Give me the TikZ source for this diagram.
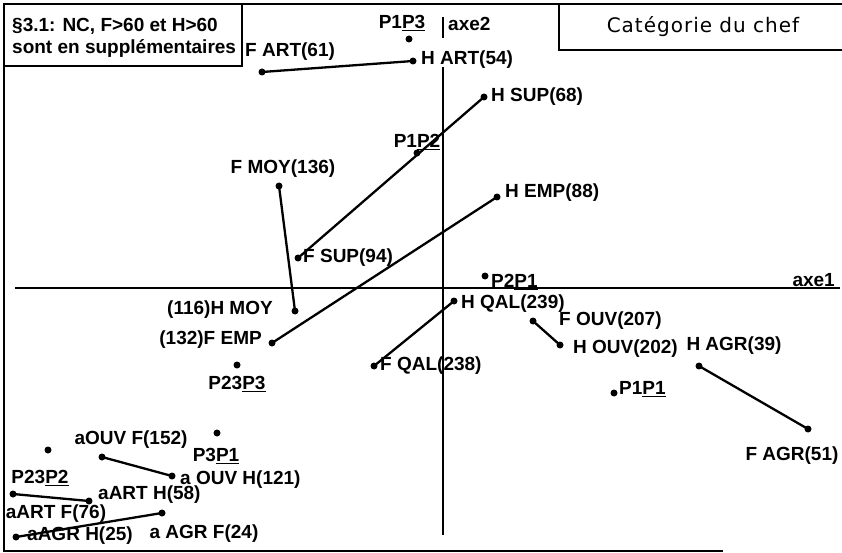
\documentclass[tikz,border=0pt]{standalone}
\usepackage{fontspec}
\newfontfamily\labfont{Liberation Sans}
\newfontfamily\titfont{DejaVu Sans}[LetterSpace=5]
\tikzset{
 pt/.style={circle,fill=black,inner sep=0pt,minimum size=7pt},
 lab/.style={inner sep=0pt,font=\labfont\bfseries\fontsize{19}{19}\selectfont},
 boxtxt/.style={inner sep=0pt,font=\labfont\bfseries\fontsize{19}{19}\selectfont},
 link/.style={line width=2.3pt},
 axisline/.style={line width=2.2pt},
 frameline/.style={line width=2.5pt}
}
\begin{document}
\begin{tikzpicture}[x=1pt,y=-1pt]
\useasboundingbox (0,0) rectangle (842,553);
% frame
\coordinate (ftl) at (4,4);
\coordinate (ftr) at (842,4);
\coordinate (fbl) at (4,551);
\coordinate (fbr) at (723,551);
\draw[frameline] (ftr) -- (ftl) -- (fbl) -- (fbr);
% left box
\draw[frameline] (4,4) rectangle (242,66);
\node[boxtxt,anchor=west] (bt1) at (12,26) {§3.1: NC, F>60 et H>60};
\node[boxtxt,anchor=west] (bt2) at (12,49) {sont en supplémentaires};
% right box
\coordinate (rb1) at (559,4);
\coordinate (rb2) at (559,50);
\coordinate (rb3) at (842,50);
\draw[frameline] (rb1) -- (rb2) -- (rb3);
\node[inner sep=0pt,font=\titfont\fontsize{20}{20}\selectfont] (title) at (703,27) {Catégorie du chef};
% axes
\coordinate (a2t) at (443,17);
\coordinate (a2m) at (443,38);
\coordinate (a2a) at (443,67);
\coordinate (a2b) at (443,535);
\draw[axisline] (a2t) -- (a2m);
\draw[axisline] (a2a) -- (a2b);
\node[lab,anchor=west] (axe2) at (448,24) {axe2};
\coordinate (a1l) at (15,288);
\coordinate (a1r) at (840,288);
\draw[axisline] (a1l) -- (a1r);
\node[lab,anchor=east] (axe1) at (835,280) {axe1};
% points
\node[pt] (p1p3) at (409,39) {};
\node[lab] (lp1p3) at (402,23) {P1\underline{P3}};
\node[pt] (fart) at (262,72) {};
\node[lab,anchor=west] (lfart) at (245,52) {F ART(61)};
\node[pt] (hart) at (413,61) {};
\node[lab,anchor=west] (lhart) at (421,60) {H ART(54)};
\node[pt] (hsup) at (484,97) {};
\node[lab,anchor=west] (lhsup) at (491,97) {H SUP(68)};
\node[pt] (p1p2) at (417,153) {};
\node[lab] (lp1p2) at (417,142) {P1\underline{P2}};
\node[pt] (fmoy) at (279,186) {};
\node[lab] (lfmoy) at (283,169) {F MOY(136)};
\node[pt] (hmoy) at (295,311) {};
\node[lab,anchor=east] (lhmoy) at (273,310) {(116)H MOY};
\node[pt] (fsup) at (298,258) {};
\node[lab,anchor=west] (lfsup) at (303,258) {F SUP(94)};
\node[pt] (hemp) at (497,197) {};
\node[lab,anchor=west] (lhemp) at (505,193) {H EMP(88)};
\node[pt] (femp) at (272,343) {};
\node[lab,anchor=east] (lfemp) at (262,340) {(132)F EMP};
\node[pt] (p2p1) at (485,276) {};
\node[lab,anchor=west] (lp2p1) at (491,282) {P2\underline{P1}};
\node[pt] (hqal) at (454,301) {};
\node[lab,anchor=west] (lhqal) at (461,304) {H QAL(239)};
\node[pt] (fqal) at (374,366) {};
\node[lab,anchor=west] (lfqal) at (380,366) {F QAL(238)};
\node[pt] (fouv) at (533,321) {};
\node[lab,anchor=west] (lfouv) at (559,321) {F OUV(207)};
\node[pt] (houv) at (560,345) {};
\node[lab,anchor=west] (lhouv) at (573,349) {H OUV(202)};
\node[pt] (hagr) at (699,366) {};
\node[lab] (lhagr) at (734,346) {H AGR(39)};
\node[pt] (fagr) at (808,429) {};
\node[lab] (lfagr) at (792,456) {F AGR(51)};
\node[pt] (p1p1) at (614,393) {};
\node[lab,anchor=west] (lp1p1) at (619,389) {P1\underline{P1}};
\node[pt] (p23p3) at (237,365) {};
\node[lab] (lp23p3) at (237,384) {P23\underline{P3}};
\node[pt] (p23p2) at (48,450) {};
\node[lab] (lp23p2) at (40,478) {P23\underline{P2}};
\node[pt] (p3p1) at (217,433) {};
\node[lab] (lp3p1) at (216,456) {P3\underline{P1}};
\node[pt] (aouvf) at (102,457) {};
\node[lab] (laouvf) at (131,440) {aOUV F(152)};
\node[pt] (aouvh) at (172,476) {};
\node[lab,anchor=west] (laouvh) at (180,480) {a OUV H(121)};
\node[pt] (aartf) at (13,494) {};
\node[lab] (laartf) at (56,514) {aART F(76)};
\node[pt] (aarth) at (89,501) {};
\node[lab,anchor=west] (laarth) at (98,495) {aART H(58)};
\node[pt] (aagrh) at (16,537) {};
\node[lab] (laagrh) at (80,536) {aAGR H(25)};
\node[pt] (aagrf) at (162,513) {};
\node[lab] (laagrf) at (204,534) {a AGR F(24)};
% links
\draw[link] (fart.center) -- (hart.center);
\draw[link] (hsup.center) -- (fsup.center);
\draw[link] (fmoy.center) -- (hmoy.center);
\draw[link] (hemp.center) -- (femp.center);
\draw[link] (hqal.center) -- (fqal.center);
\draw[link] (fouv.center) -- (houv.center);
\draw[link] (hagr.center) -- (fagr.center);
\draw[link] (aouvf.center) -- (aouvh.center);
\draw[link] (aartf.center) -- (aarth.center);
\draw[link] (aagrh.center) -- (aagrf.center);
\end{tikzpicture}
\end{document}
